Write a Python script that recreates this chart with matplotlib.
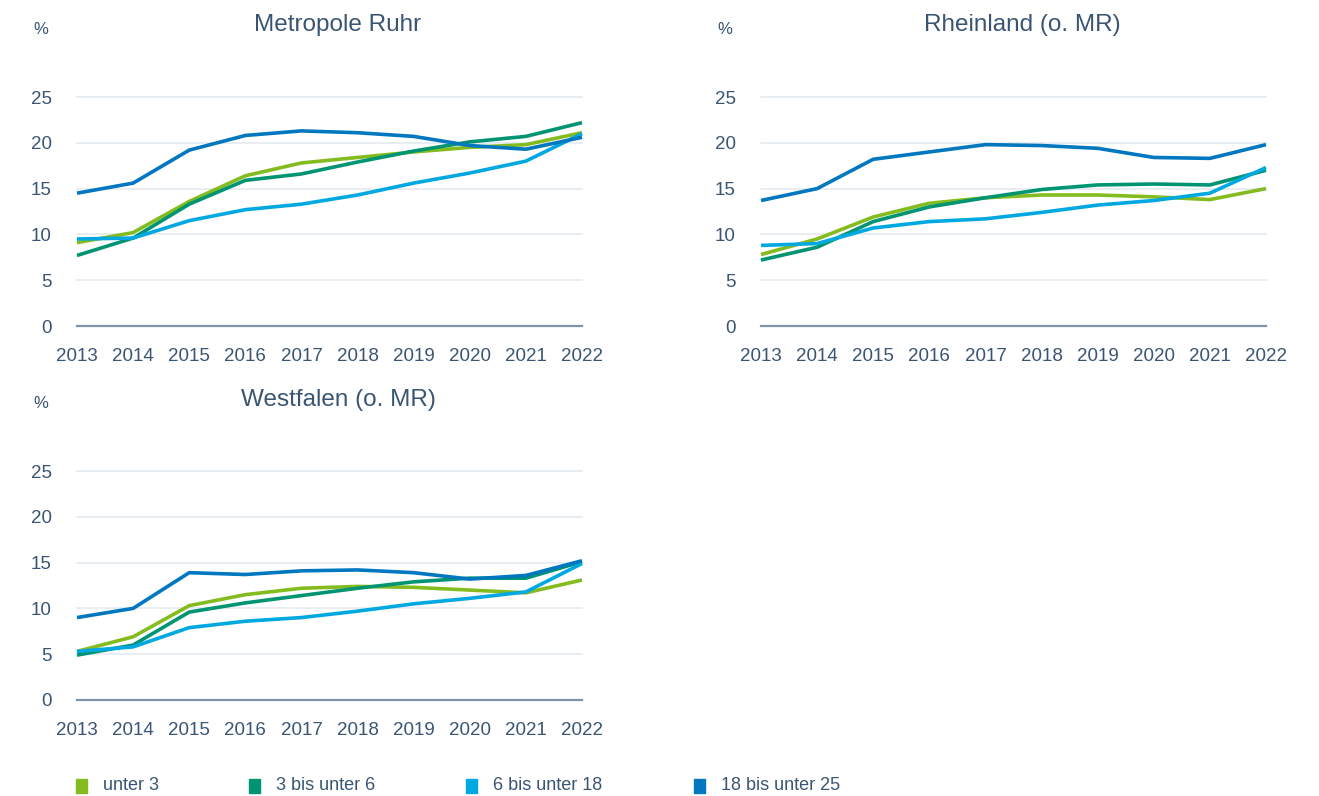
import matplotlib
matplotlib.use("Agg")
import matplotlib.pyplot as plt
from matplotlib.patches import Rectangle

years = [2013, 2014, 2015, 2016, 2017, 2018, 2019, 2020, 2021, 2022]
series_names = ["unter 3", "3 bis unter 6", "6 bis unter 18", "18 bis unter 25"]
colors = ["#84bc1f", "#009473", "#00a8e1", "#0077be"]

# Metropole Ruhr
ruhr_u3 = [9.1, 10.2, 13.6, 16.4, 17.8, 18.4, 19.0, 19.5, 19.8, 21.1]
ruhr_3_6 = [7.7, 9.6, 13.3, 15.9, 16.6, 17.9, 19.1, 20.1, 20.7, 22.2]
ruhr_6_18 = [9.5, 9.6, 11.5, 12.7, 13.3, 14.3, 15.6, 16.7, 18.0, 21.0]
ruhr_18_25 = [14.5, 15.6, 19.2, 20.8, 21.3, 21.1, 20.7, 19.7, 19.3, 20.6]

# Rheinland (o. MR)
rhein_u3 = [7.8, 9.5, 11.9, 13.4, 14.0, 14.3, 14.3, 14.1, 13.8, 15.0]
rhein_3_6 = [7.2, 8.6, 11.4, 13.0, 14.0, 14.9, 15.4, 15.5, 15.4, 17.0]
rhein_6_18 = [8.8, 9.0, 10.7, 11.4, 11.7, 12.4, 13.2, 13.7, 14.5, 17.3]
rhein_18_25 = [13.7, 15.0, 18.2, 19.0, 19.8, 19.7, 19.4, 18.4, 18.3, 19.8]

# Westfalen (o. MR)
west_u3 = [5.3, 6.9, 10.3, 11.5, 12.2, 12.4, 12.3, 12.0, 11.7, 13.1]
west_3_6 = [4.9, 6.0, 9.6, 10.6, 11.4, 12.2, 12.9, 13.3, 13.3, 15.1]
west_6_18 = [5.3, 5.8, 7.9, 8.6, 9.0, 9.7, 10.5, 11.1, 11.8, 14.9]
west_18_25 = [9.0, 10.0, 13.9, 13.7, 14.1, 14.2, 13.9, 13.2, 13.6, 15.2]

panels = [
    ("Metropole Ruhr", [ruhr_u3, ruhr_3_6, ruhr_6_18, ruhr_18_25]),
    ("Rheinland (o. MR)", [rhein_u3, rhein_3_6, rhein_6_18, rhein_18_25]),
    ("Westfalen (o. MR)", [west_u3, west_3_6, west_6_18, west_18_25]),
]
yticks = [0, 5, 10, 15, 20, 25]

plt.rcParams['font.family'] = ['Liberation Sans', 'DejaVu Sans']
text_color = "#3a5573"
W, H = 1319, 796
fig = plt.figure(figsize=(W / 100, H / 100), dpi=100)

# axes pixel boxes: (left, right, y0_px, y25_px)
boxes = [(77, 582, 326, 97), (761, 1266, 326, 97), (77, 582, 700, 471)]
title_x = [338, 1022, 338]
title_y = [25, 25, 400]
pct_pos = [(41, 30), (725, 30), (41, 404)]

for (title, data), (l, r, yb, yt), tx, ty, (px, py) in zip(panels, boxes, title_x, title_y, pct_pos):
    ax = fig.add_axes([l / W, (H - yb) / H, (r - l) / W, (yb - yt) / H])
    ax.set_xlim(2013, 2022)
    ax.set_ylim(0, 25)
    for y in yticks[1:]:
        ax.axhline(y, color="#e4eaef", lw=1.2, zorder=0, clip_on=False)
    ax.axhline(0, color="#7f93a6", lw=1.6, zorder=1, clip_on=False)
    for vals, c in zip(data, colors):
        ax.plot(years, vals, color=c, lw=2.6, solid_capstyle='butt', clip_on=False, zorder=3)
    for s in ax.spines.values():
        s.set_visible(False)
    ax.set_xticks(years)
    ax.set_xticklabels([str(y) for y in years])
    ax.set_yticks(yticks)
    ax.tick_params(axis='both', length=0, labelsize=13.5, labelcolor=text_color)
    ax.tick_params(axis='x', pad=16)
    ax.tick_params(axis='y', pad=18)
    fig.text(tx / W, 1 - ty / H, title, ha='center', va='center', fontsize=17.5, color=text_color)
    fig.text(px / W, 1 - py / H, "%", ha='center', va='center', fontsize=12, color=text_color)

leg_x = [76, 249, 466, 694]
leg_y = 786
for x, name, c in zip(leg_x, series_names, colors):
    fig.patches.append(Rectangle((x / W, (H - leg_y - 7) / H), 11 / W, 14 / H,
                                 transform=fig.transFigure, color=c, figure=fig))
    fig.text((x + 27) / W, 1 - leg_y / H, name, ha='left', va='center', fontsize=13, color=text_color)

fig.savefig("out.png", dpi=100)
